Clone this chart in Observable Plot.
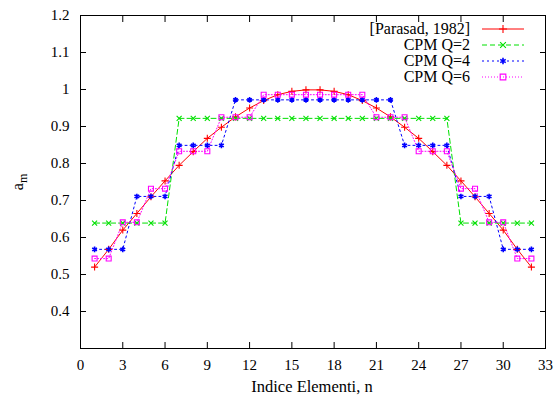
<!DOCTYPE html>
<html><head><meta charset="utf-8">
<script src="https://cdn.jsdelivr.net/npm/d3@7"></script>
<script src="https://cdn.jsdelivr.net/npm/@observablehq/plot@0.6"></script>
<style>
body{margin:0;background:#fff}
#wrap{position:relative;width:555px;height:400px}
#wrap svg, #wrap text{font-family:"Liberation Serif",serif !important}
#overlay{position:absolute;left:0;top:0;pointer-events:none}
</style>
</head><body><div id="wrap"></div>
<script>
const n = [1,2,3,4,5,6,7,8,9,10,11,12,13,14,15,16,17,18,19,20,21,22,23,24,25,26,27,28,29,30,31,32];
const parasad = [0.520,0.568,0.620,0.665,0.710,0.753,0.795,0.832,0.868,0.898,0.926,0.950,0.970,0.986,0.995,0.999,
                 0.999,0.995,0.986,0.970,0.950,0.926,0.898,0.868,0.832,0.795,0.753,0.710,0.665,0.620,0.568,0.520];
const cpmQ2 = [0.639,0.639,0.639,0.639,0.639,0.639,0.922,0.922,0.922,0.922,0.922,0.922,0.922,0.922,0.922,0.922,
               0.922,0.922,0.922,0.922,0.922,0.922,0.922,0.922,0.922,0.922,0.639,0.639,0.639,0.639,0.639,0.639];
const cpmQ4 = [0.568,0.568,0.568,0.711,0.711,0.711,0.849,0.849,0.849,0.849,0.972,0.972,0.972,0.972,0.972,0.972,
               0.972,0.972,0.972,0.972,0.972,0.972,0.849,0.849,0.849,0.849,0.711,0.711,0.711,0.568,0.568,0.568];
const cpmQ6 = [0.543,0.543,0.641,0.641,0.732,0.732,0.833,0.833,0.833,0.925,0.925,0.925,0.986,0.986,0.986,0.986,
               0.986,0.986,0.986,0.986,0.925,0.925,0.925,0.833,0.833,0.833,0.732,0.732,0.641,0.641,0.543,0.543];
const seriesNames = ["[Parasad, 1982]","CPM Q=2","CPM Q=4","CPM Q=6"];
const xTicks = [0,3,6,9,12,15,18,21,24,27,30,33];
const yTicks = [0.4,0.5,0.6,0.7,0.8,0.9,1.0,1.1,1.2];
const xLabel = "Indice Elementi, n";

const FONT = "Liberation Serif, serif";
const colors = ["#ff0000","#00e000","#0000ff","#ff00ff"];
const dashes = [null,"5,3","2,3","1,2"];
const symbols = ["plus","times","asterisk","square"];
const sizes = [2.4,2.4,2.6,2.8];
const values = [parasad,cpmQ2,cpmQ4,cpmQ6];

const marks = [];
values.forEach((vals,i)=>{
  const data = n.map((x,j)=>({x, y: vals[j]}));
  marks.push(Plot.line(data,{x:"x",y:"y",stroke:colors[i],strokeWidth:1,strokeDasharray:dashes[i]}));
});
values.forEach((vals,i)=>{
  const data = n.map((x,j)=>({x, y: vals[j]}));
  marks.push(Plot.dot(data,{x:"x",y:"y",stroke:colors[i],symbol:symbols[i],r:sizes[i],strokeWidth:i===2?1.6:1.1,fill:"none"}));
});

const fmtY = d => String(+d.toFixed(1));
const chart = Plot.plot({
  width:555, height:400,
  marginLeft:80, marginRight:10, marginTop:15, marginBottom:52,
  style:{fontFamily:FONT, fontSize:"15px", background:"white", color:"black", overflow:"visible"},
  x:{domain:[0,33]},
  y:{domain:[0.3,1.2]},
  marks:[
    Plot.axisX(xTicks,{anchor:"bottom",tickSize:0,tickPadding:11,label:null,fontSize:15}),
    Plot.axisX(xTicks,{anchor:"bottom",tickSize:-6,tickFormat:()=>"",label:null}),
    Plot.axisX(xTicks,{anchor:"top",tickSize:-6,tickFormat:()=>"",label:null}),
    Plot.axisY(yTicks,{anchor:"left",tickSize:0,tickPadding:11,tickFormat:fmtY,label:null,fontSize:15}),
    Plot.axisY(yTicks,{anchor:"left",tickSize:-6,tickFormat:()=>"",label:null}),
    Plot.axisY(yTicks,{anchor:"right",tickSize:-6,tickFormat:()=>"",label:null}),
    ...marks,
    Plot.frame({stroke:"black",strokeWidth:1})
  ]
});
const wrap = document.getElementById("wrap");
wrap.appendChild(chart);

// overlay: legend, axis titles
const svg = d3.select(wrap).append("svg").attr("id","overlay").attr("width",555).attr("height",400)
  .attr("font-family",FONT);
svg.append("text").attr("x",312).attr("y",392).attr("text-anchor","middle").attr("font-size",16.5).text(xLabel);
const yt = svg.append("text").attr("transform","translate(23,182) rotate(-90)").attr("text-anchor","middle").attr("font-size",16);
yt.append("tspan").text("a");
yt.append("tspan").attr("font-size",12).attr("dy",4).text("m");
const symGen = {plus:d3.symbolPlus, times:d3.symbolTimes, asterisk:d3.symbolAsterisk, square:d3.symbolSquare};
seriesNames.forEach((name,i)=>{
  const cy = 29 + i*16;
  svg.append("text").attr("x",470).attr("y",cy+5).attr("text-anchor","end").attr("font-size",16).text(name);
  svg.append("line").attr("x1",482).attr("x2",524).attr("y1",cy).attr("y2",cy)
    .attr("stroke",colors[i]).attr("stroke-width",1).attr("stroke-dasharray",dashes[i]);
  svg.append("path").attr("transform",`translate(503,${cy})`)
    .attr("d",d3.symbol(symGen[symbols[i]], Math.PI*sizes[i]*sizes[i]*1.3)())
    .attr("fill","none").attr("stroke",colors[i]).attr("stroke-width",i===2?1.6:1.1);
});
</script>
</body></html>
